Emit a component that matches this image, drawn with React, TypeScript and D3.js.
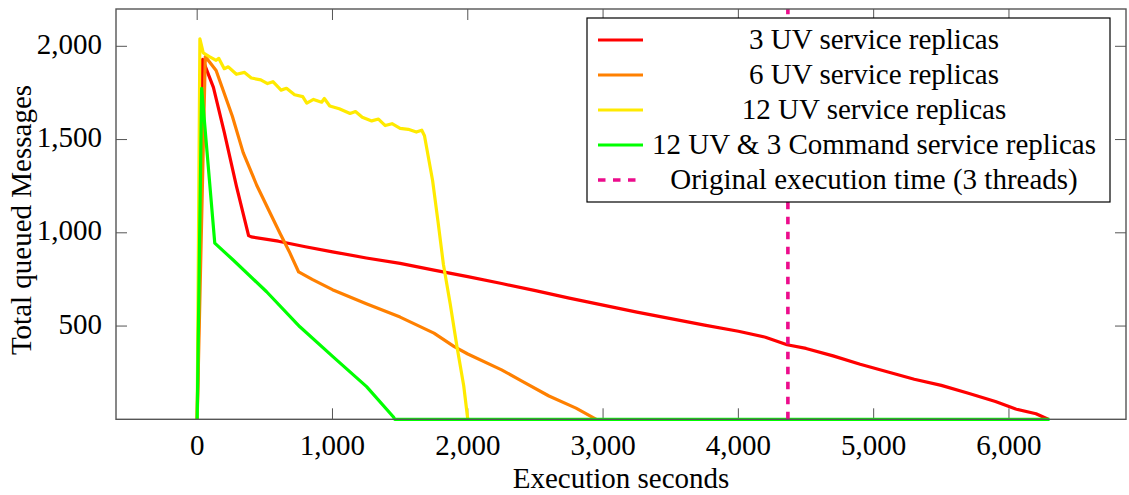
import React from "react";
import * as d3 from "d3";

type P = [number, number];

const red3UV: P[] = [
  [0, 0], [40, 1930], [120, 1780], [200, 1540], [290, 1250], [380, 985], [400, 978],
  [600, 955], [800, 925], [1000, 898], [1250, 865], [1500, 836], [1750, 800], [2000, 765],
  [2250, 728], [2500, 690], [2750, 650], [3000, 612], [3250, 575], [3500, 540], [3750, 505],
  [4000, 472], [4200, 440], [4360, 400], [4500, 380], [4700, 340], [4900, 295], [5100, 255],
  [5300, 215], [5500, 182], [5700, 140], [5900, 95], [6050, 55], [6200, 30], [6290, 0],
];

const orange6UV: P[] = [
  [0, 0], [60, 1945], [140, 1870], [260, 1625], [340, 1430], [440, 1255], [540, 1105],
  [610, 1000], [680, 900], [750, 790], [850, 750], [1000, 695], [1250, 620], [1500, 548],
  [1750, 462], [1900, 390], [2000, 350], [2250, 265], [2400, 205], [2600, 125], [2800, 60],
  [2950, 0],
];

const yellow12UV: P[] = [
  [0, 0], [20, 2040], [45, 1965], [90, 1945], [140, 1925], [160, 1935], [200, 1880],
  [230, 1890], [290, 1850], [350, 1860], [400, 1830], [470, 1820], [520, 1800], [560, 1810],
  [620, 1765], [660, 1775], [720, 1740], [780, 1730], [810, 1695], [860, 1715], [920, 1700],
  [940, 1720], [980, 1680], [1050, 1665], [1130, 1640], [1170, 1650], [1220, 1620],
  [1290, 1600], [1340, 1610], [1390, 1575], [1440, 1585], [1500, 1560], [1560, 1555],
  [1620, 1540], [1660, 1550], [1680, 1520], [1740, 1280], [1780, 1060], [1820, 830],
  [1870, 620], [1920, 390], [1970, 180], [2000, 0],
];

const green12UV3Cmd: P[] = [
  [0, 0], [33, 1775], [130, 945], [266, 854], [513, 684], [759, 496], [1005, 335],
  [1252, 175], [1449, 14], [1461, 0], [6300, 0],
];

const originalTime = 4366;

const xTicks = [0, 1000, 2000, 3000, 4000, 5000, 6000];
const yTicks = [500, 1000, 1500, 2000];

const seriesNames = [
  "3 UV service replicas",
  "6 UV service replicas",
  "12 UV service replicas",
  "12 UV & 3 Command service replicas",
];
const originalName = "Original execution time (3 threads)";

const FONT = "'Liberation Serif', 'Times New Roman', serif";

export default function App() {
  const W = 1129, H = 495;
  const left = 116, right = 1126, top = 9, bottom = 419.3;
  const x = d3.scaleLinear().domain([-600, 6865]).range([left, right]);
  const y = d3.scaleLinear().domain([0, 2200]).range([bottom, top]);
  const line = d3.line<P>().x((d) => x(d[0])).y((d) => y(d[1]));
  const fmt = d3.format(",");

  const series = [
    { data: red3UV, color: "#ff0000" },
    { data: orange6UV, color: "#ff8000" },
    { data: yellow12UV, color: "#ffea00" },
    { data: green12UV3Cmd, color: "#00ff00" },
  ];
  const magenta = "#ec0c8c";
  const axisColor = "#555";
  const FS = 29;

  const lg = { x0: 587, y0: 18, x1: 1110, y1: 202 };
  const rowY = (i: number) => 40 + i * 35;

  return (
    <svg width={W} height={H} style={{ position: "absolute", left: 0, top: 0, background: "#fff" }}
      fontFamily={FONT}>
      <rect x={0} y={0} width={W} height={H} fill="#fff" />
      {/* ticks */}
      {xTicks.map((t) => (
        <g key={"xt" + t}>
          <line x1={x(t)} x2={x(t)} y1={bottom} y2={bottom - 11} stroke={axisColor} strokeWidth={1} />
          <line x1={x(t)} x2={x(t)} y1={top} y2={top + 11} stroke={axisColor} strokeWidth={1} />
          <text x={x(t)} y={455} textAnchor="middle" fontSize={FS} fill="#000">{fmt(t)}</text>
        </g>
      ))}
      {yTicks.map((t) => (
        <g key={"yt" + t}>
          <line x1={left} x2={left + 11} y1={y(t)} y2={y(t)} stroke={axisColor} strokeWidth={1} />
          <line x1={right} x2={right - 11} y1={y(t)} y2={y(t)} stroke={axisColor} strokeWidth={1} />
          <text x={102} y={y(t) + 7.5} textAnchor="end" fontSize={FS} fill="#000">{fmt(t)}</text>
        </g>
      ))}
      {/* series */}
      {series.map((s, i) => (
        <path key={i} d={line(s.data) || ""} fill="none" stroke={s.color} strokeWidth={3.2}
          strokeLinejoin="round" />
      ))}
      <line x1={x(originalTime)} x2={x(originalTime)} y1={y(0)} y2={y(2200)} stroke={magenta}
        strokeWidth={3.6} strokeDasharray="7.5 7.5" />
      {/* frame */}
      <rect x={left} y={top} width={right - left} height={bottom - top} fill="none" stroke={axisColor}
        strokeWidth={1.4} />
      {/* legend */}
      <rect x={lg.x0} y={lg.y0} width={lg.x1 - lg.x0} height={lg.y1 - lg.y0} fill="#fff" stroke="#000"
        strokeWidth={1.2} />
      {seriesNames.map((n, i) => (
        <g key={"lg" + i}>
          <line x1={598} x2={643} y1={rowY(i)} y2={rowY(i)} stroke={series[i].color} strokeWidth={3.2} />
          <text x={874} y={rowY(i) + 9} textAnchor="middle" fontSize={FS} fill="#000">{n}</text>
        </g>
      ))}
      <line x1={598} x2={643} y1={rowY(4)} y2={rowY(4)} stroke={magenta} strokeWidth={3.6}
        strokeDasharray="7.5 7.5" />
      <text x={874} y={rowY(4) + 9} textAnchor="middle" fontSize={FS} fill="#000">{originalName}</text>
      {/* axis labels */}
      <text x={621} y={488} textAnchor="middle" fontSize={FS} fill="#000">Execution seconds</text>
      <text transform={`translate(31, 220) rotate(-90)`} textAnchor="middle" fontSize={FS} fill="#000">
        Total queued Messages
      </text>
    </svg>
  );
}
